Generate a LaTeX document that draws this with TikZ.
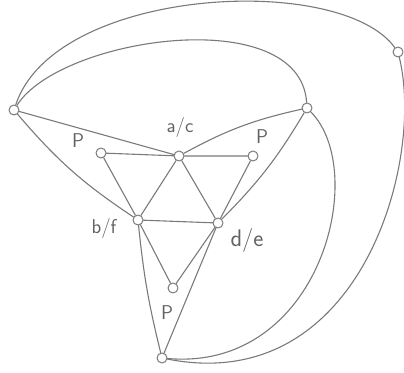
\documentclass[tikz,border=0pt]{standalone}
\usepackage{tikz}
\definecolor{pencil}{HTML}{7A7A7A}
\tikzset{
  every picture/.style={
    line join=round,
    line cap=round,
  },
  % small open circles for the vertices
  vtx/.style={circle, draw=pencil, fill=white, line width=1pt, inner sep=0pt, minimum size=10pt},
  lbl/.style={text=pencil!80!black, font=\fontsize{20}{24}\selectfont\sffamily},
  wire/.style={draw=pencil, line width=1.1pt},
}

\begin{document}
\begin{tikzpicture}[x=1pt,y=1pt]
\useasboundingbox (0,0) rectangle (404,372);
% vertices
\node[vtx] (L)  at (14,262)  {};
\node[vtx] (R)  at (398,320) {};
\node[vtx] (T)  at (307,264) {};
\node[vtx] (ac) at (179,216) {};
\node[vtx] (pl) at (101,219) {};
\node[vtx] (pr) at (253,216) {};
\node[vtx] (bf) at (138,152) {};
\node[vtx] (de) at (218,149) {};
\node[vtx] (pb) at (173,84)  {};
\node[vtx] (B)  at (162,14)  {};
% outer curves
\draw[wire] (L) .. controls (55,385) and (340,400) .. (R);
\draw[wire] (L) .. controls (60,335) and (300,370) .. (T);
\draw[wire] (T) .. controls (370,200) and (320,0) .. (B);
\draw[wire] (R) .. controls (425,210) and (360,-25) .. (B);
\draw[wire] (L) -- (ac);
\draw[wire] (L) to[bend right=8] (bf);
\draw[wire] (ac) to[bend left=8] (T);
\draw[wire] (de) to[bend right=7] (T);
% inner part
\draw[wire] (pl) -- (ac) -- (pr);
\draw[wire] (ac) -- (bf) -- (de) -- (ac);
\draw[wire] (pl) -- (bf);
\draw[wire] (pr) -- (de);
\draw[wire] (bf) -- (pb) -- (de);
\draw[wire] (bf) to[bend right=4] (B);
\draw[wire] (de) -- (B);
% labels
\node[lbl] (lac) at (180,244) {a/c};
\node[lbl] (lpl) at (78,231)  {P};
\node[lbl] (lpr) at (262,235) {P};
\node[lbl] (lbf) at (104,143) {b/f};
\node[lbl, font=\fontsize{24}{28}\selectfont\sffamily] (lde) at (247,131) {d/e};
\node[lbl] (lpb) at (167,59)  {P};
\end{tikzpicture}
\end{document}
